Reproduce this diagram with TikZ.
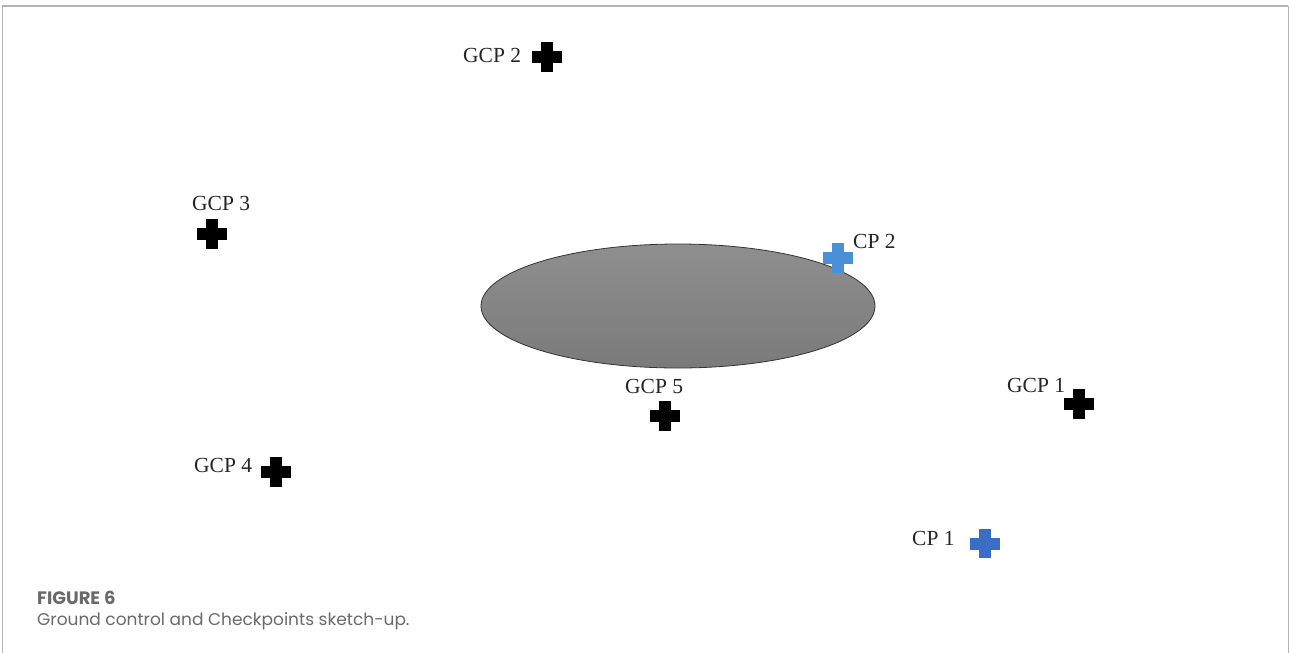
\documentclass[tikz,border=0pt]{standalone}
\usepackage{fontspec}
\setmainfont{Liberation Serif}
\newfontfamily\capfont{Poppins}
\usetikzlibrary{shapes.geometric}
\definecolor{framegray}{HTML}{B4B4B4}
\definecolor{capgray}{HTML}{6A6A6A}
\definecolor{cpblue}{HTML}{4A90D6}
\definecolor{cpblueb}{HTML}{3A6EC6}
\tikzset{
  pics/plusmark/.style={code={
    \fill[#1] (-15,-6) rectangle (15,6);
    \fill[#1] (-6,-15) rectangle (6,15);
  }},
  ptlabel/.style={font=\fontsize{21.5}{24}\selectfont, inner sep=0pt, anchor=west, text=black!85},
  capline/.style={font=\capfont\fontsize{17}{20}\selectfont, inner sep=0pt, anchor=base west, text=capgray}
}
\begin{document}
\begin{tikzpicture}[x=1pt,y=-1pt]
  \useasboundingbox (0,0) rectangle (1290,653);
  \fill[white] (0,0) rectangle (1290,653);
  % frame
  \draw[framegray, line width=1.6pt] (2,6) -- (1288,6);
  \draw[framegray, line width=0.9pt] (2,6) -- (2,653);
  \draw[framegray, line width=0.9pt] (1288,6) -- (1288,653);

  % the pond
  \node[ellipse, draw=black!80, line width=0.8pt, minimum width=394pt, minimum height=124pt,
        top color=black!44, bottom color=black!52] (pond) at (678,306) {};

  % ground control points
  \coordinate (g1) at (1079,404);
  \coordinate (g2) at (547,57);
  \coordinate (g3) at (212,234);
  \coordinate (g4) at (276,472);
  \coordinate (g5) at (665,416);
  \foreach \p in {g1,g2,g3,g4,g5} \pic at (\p) {plusmark=black};

  % checkpoints
  \coordinate (c2) at (838,258);
  \coordinate (c1) at (985,544);
  \pic at (c2) {plusmark=cpblue};
  \begin{scope}
    \clip (940,520) rectangle (1020,557);
    \pic at (c1) {plusmark=cpblueb};
  \end{scope}

  % labels
  \node[ptlabel] (lg2) at (463,55) {GCP 2};
  \node[ptlabel] (lg3) at (192,203) {GCP 3};
  \node[ptlabel] (lc2) at (853,241) {CP 2};
  \node[ptlabel] (lg1) at (1007,385) {GCP 1};
  \node[ptlabel] (lg5) at (625,386) {GCP 5};
  \node[ptlabel] (lg4) at (194,465) {GCP 4};
  \node[ptlabel] (lc1) at (912,538) {CP 1};

  % caption
  \node[capline, font=\capfont\bfseries\fontsize{18}{20}\selectfont] (fig) at (37,604) {FIGURE 6};
  \node[capline] (cap) at (37,625) {Ground control and Checkpoints sketch-up.};
\end{tikzpicture}
\end{document}
